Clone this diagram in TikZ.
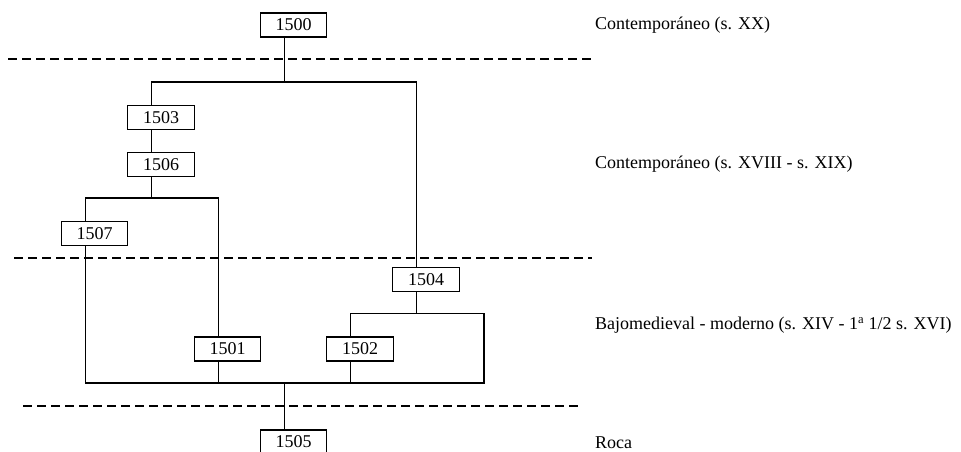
\documentclass[tikz,border=0pt]{standalone}
\usepackage{fontspec}
\setmainfont{Liberation Serif}
\begin{document}
\begin{tikzpicture}[x=1pt,y=-1pt,
  unitbox/.style={draw,line width=1.3pt,minimum width=66.5pt,minimum height=24pt,
    inner sep=0pt,font=\fontsize{18}{20}\selectfont},
  linkline/.style={line width=1.2pt},
  cutline/.style={line width=1.2pt,dash pattern=on 9pt off 5pt},
  periodtext/.style={anchor=west,inner sep=0pt,font=\fontsize{18}{20}\selectfont}]
\useasboundingbox[fill=white] (0,0) rectangle (961,452);

% stratigraphic units
\node[unitbox] (u1500) at (293.5,25)  {1500};
\node[unitbox] (u1503) at (161,117.5) {1503};
\node[unitbox] (u1506) at (161,164.5) {1506};
\node[unitbox] (u1507) at (94.5,233.5){1507};
\node[unitbox] (u1504) at (426,279.5) {1504};
\node[unitbox] (u1501) at (227.5,349) {1501};
\node[unitbox] (u1502) at (360,349)   {1502};
\node[unitbox] (u1505) at (293.5,442) {1505};

% stems of the units (connectors meet the boxes left of centre)
\foreach \u in {1500,1503,1506,1507,1504,1501,1502,1505}{
  \coordinate (t\u) at ([xshift=24.5pt]u\u.north west);
  \coordinate (b\u) at ([xshift=24.5pt]u\u.south west);
}

% levels of the horizontal bars
\coordinate (r1) at (0,82);
\coordinate (r2) at (0,198);
\coordinate (r3) at (0,313.5);
\coordinate (r4) at (0,383);
\coordinate (c1) at (484,313.5);

% period boundaries
\draw[cutline] (8,59) -- (592,59);
\draw[cutline] (14,258) -- (592,258);
\draw[cutline] (23,406) -- (580,406);

% relations
\draw[linkline] (b1500) -- (b1500 |- r1);
\draw[linkline] (t1503) -- (t1503 |- r1) -- (t1504 |- r1) -- (t1504);
\draw[linkline] (b1503) -- (t1506);
\draw[linkline] (b1506) -- (b1506 |- r2);
\draw[linkline] (t1507) -- (t1507 |- r2) -- (t1501 |- r2) -- (t1501);
\draw[linkline] (b1504) -- (b1504 |- r3);
\draw[linkline] (t1502) -- (t1502 |- r3) -- (c1) -- (c1 |- r4) -- (b1507 |- r4) -- (b1507);
\draw[linkline] (b1501) -- (b1501 |- r4);
\draw[linkline] (b1502) -- (b1502 |- r4);
\draw[linkline] (t1505 |- r4) -- (t1505);

% periods
\node[periodtext] (p1) at (595,25)  {Contemporáneo (s. XX)};
\node[periodtext] (p2) at (595,164.5) {Contemporáneo (s. XVIII - s. XIX)};
\node[periodtext] (p3) at (595,325) {Bajomedieval - moderno (s. XIV - 1\textsuperscript{a} 1/2 s. XVI)};
\node[periodtext] (p4) at (595,443) {Roca};
\end{tikzpicture}
\end{document}
